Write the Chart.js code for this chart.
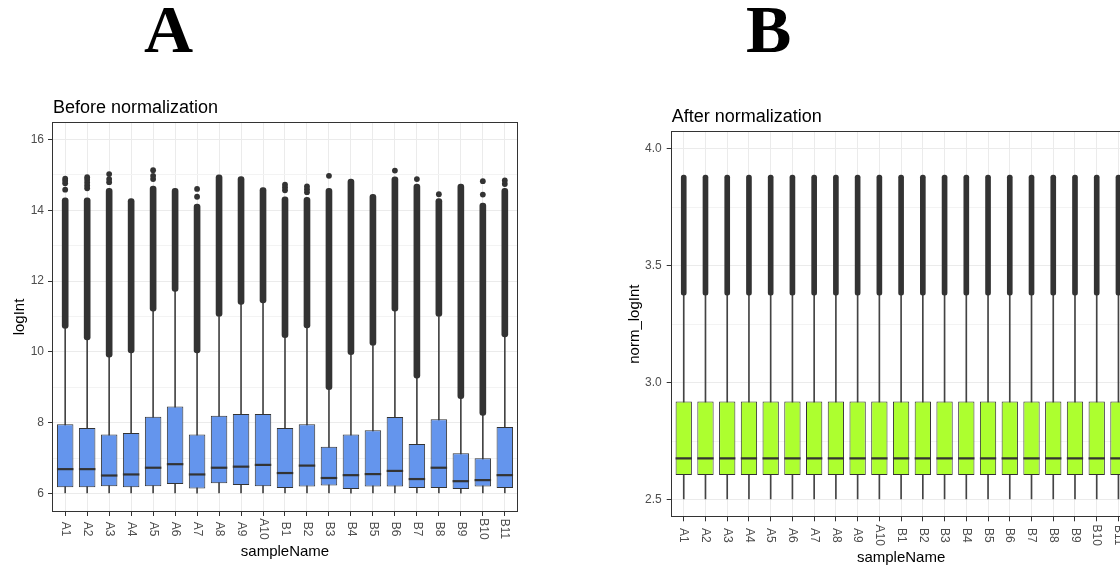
<!DOCTYPE html>
<html>
<head>
<meta charset="utf-8">
<script src="https://cdn.jsdelivr.net/npm/chart.js@4.4.1/dist/chart.umd.min.js"></script>
<style>
body { margin: 0; width: 1120px; height: 571px; overflow: hidden; background: #fff; position: relative; }
.letter { position: absolute; top: -5px; font-family: "Liberation Serif", "Times New Roman", serif; font-weight: bold; font-size: 68px; line-height: 1; color: #000; }
.panel { position: absolute; top: 0; width: 530px; height: 571px; }
</style>
</head>
<body>
<div class="letter" style="left:144px">A</div>
<div class="letter" style="left:746px">B</div>
<div class="panel" style="left:0"><canvas id="chart1"></canvas></div>
<div class="panel" style="left:620px"><canvas id="chart2"></canvas></div>
<script>
const samples = ['A1', 'A2', 'A3', 'A4', 'A5', 'A6', 'A7', 'A8', 'A9', 'A10',
    'B1', 'B2', 'B3', 'B4', 'B5', 'B6', 'B7', 'B8', 'B9', 'B10', 'B11'];

// Before normalization (logInt)
const lowBefore = [6.02, 6.02, 6.02, 6.02, 6.02, 6.02, 6.01, 6.02, 6.02, 6.02, 6.02, 6.02, 6.02, 6.01, 6.02, 6.02, 6.02, 6.02, 6.01, 6.02, 6.02];
const q1Before = [6.18, 6.18, 6.21, 6.18, 6.21, 6.27, 6.14, 6.29, 6.24, 6.21, 6.16, 6.20, 6.23, 6.13, 6.20, 6.20, 6.16, 6.16, 6.13, 6.20, 6.16];
const medBefore = [6.69, 6.69, 6.51, 6.54, 6.73, 6.83, 6.54, 6.73, 6.76, 6.81, 6.58, 6.79, 6.44, 6.52, 6.55, 6.64, 6.41, 6.73, 6.35, 6.38, 6.52];
const q3Before = [7.96, 7.85, 7.67, 7.71, 8.17, 8.46, 7.67, 8.20, 8.25, 8.25, 7.85, 7.96, 7.32, 7.67, 7.79, 8.16, 7.40, 8.10, 7.14, 7.00, 7.88];
const highBefore = [10.66, 10.34, 9.85, 9.97, 11.15, 11.71, 9.97, 11.00, 11.34, 11.38, 10.40, 10.68, 8.93, 9.92, 10.18, 11.15, 9.26, 11.00, 8.68, 8.21, 10.42];
// top of the dense run of outliers
const outTopBefore = [14.35, 14.35, 14.62, 14.33, 14.68, 14.62, 14.17, 15.00, 14.95, 14.64, 14.38, 14.36, 14.62, 14.88, 14.45, 14.94, 14.74, 14.33, 14.74, 14.20, 14.62];
// separate outlier points above the run
const outPointsBefore = [
    [14.58, 14.76, 14.83, 14.89], [14.62, 14.70, 14.78, 14.86, 14.93], [14.79, 14.88, 15.02], [],
    [14.88, 14.97, 15.13], [], [14.38, 14.60], [], [], [],
    [14.56, 14.64, 14.72], [14.51, 14.59, 14.67], [14.97], [], [], [15.12], [14.88], [14.45], [],
    [14.44, 14.82], [14.74, 14.84]
];

// After normalization (norm_logInt)
const lowAfter = [2.504, 2.504, 2.504, 2.504, 2.504, 2.504, 2.504, 2.504, 2.504, 2.504, 2.504, 2.504, 2.504, 2.504, 2.504, 2.504, 2.504, 2.504, 2.504, 2.504, 2.504];
const q1After = [2.607, 2.607, 2.607, 2.607, 2.607, 2.607, 2.607, 2.607, 2.607, 2.607, 2.607, 2.607, 2.607, 2.607, 2.607, 2.607, 2.607, 2.607, 2.607, 2.607, 2.607];
const medAfter = [2.678, 2.678, 2.678, 2.678, 2.678, 2.678, 2.678, 2.678, 2.678, 2.678, 2.678, 2.678, 2.678, 2.678, 2.678, 2.678, 2.678, 2.678, 2.678, 2.678, 2.678];
const q3After = [2.921, 2.921, 2.921, 2.921, 2.921, 2.921, 2.921, 2.921, 2.921, 2.921, 2.921, 2.921, 2.921, 2.921, 2.921, 2.921, 2.921, 2.921, 2.921, 2.921, 2.921];
const highAfter = [3.375, 3.375, 3.375, 3.375, 3.375, 3.375, 3.375, 3.375, 3.375, 3.375, 3.375, 3.375, 3.375, 3.375, 3.375, 3.375, 3.375, 3.375, 3.375, 3.375, 3.375];
const outTopAfter = [3.888, 3.888, 3.888, 3.888, 3.888, 3.888, 3.888, 3.888, 3.888, 3.888, 3.888, 3.888, 3.888, 3.888, 3.888, 3.888, 3.888, 3.888, 3.888, 3.888, 3.888];

const FONT = '"Liberation Sans", Arial, Helvetica, sans-serif';
Chart.defaults.font.family = FONT;

// boxplot built from floating bars + point markers
function boxDatasets(low, q1, med, q3, high, outTop, outPoints, fill, bandWidth) {
    let whisker = [], box = [], band = [], median = [], dots = [];
    for (let i = 0; i < samples.length; i++) {
        whisker.push({x: i, y: [low[i], high[i]]});
        box.push({x: i, y: [q1[i], q3[i]]});
        band.push({x: i, y: [high[i], outTop[i]]});
        median.push({x: i, y: med[i]});
        if (outPoints) {
            outPoints[i].forEach(v => dots.push({x: i, y: v}));
        }
    }
    return [
        {type: 'line', data: median, showLine: false, pointStyle: 'line', order: 0,
            pointRadius: ctx => {
                const xs = ctx.chart.scales.x;
                return Math.abs(xs.getPixelForValue(1) - xs.getPixelForValue(0)) * 0.375;
            },
            pointBorderWidth: 2.2, pointBorderColor: '#333333'},
        {type: 'line', data: dots, showLine: false, pointStyle: 'circle', order: 1,
            pointRadius: 2.9, pointBorderWidth: 0, pointBackgroundColor: '#333333'},
        {type: 'bar', data: box, order: 2, grouped: false, barPercentage: 0.75, categoryPercentage: 1,
            backgroundColor: fill, borderColor: '#333333', borderWidth: 1, borderSkipped: false},
        {type: 'bar', data: band, order: 3, grouped: false, barThickness: bandWidth,
            backgroundColor: '#333333', borderRadius: bandWidth / 2, borderSkipped: false},
        {type: 'bar', data: whisker, order: 4, grouped: false, barThickness: 1,
            backgroundColor: '#444444'}
    ];
}

// panel border, title and rotated sample names
const panelPlugin = {
    id: 'panel',
    afterDraw(chart, args, opts) {
        const ctx = chart.ctx;
        const area = chart.chartArea;
        const xs = chart.scales.x;
        ctx.save();
        ctx.strokeStyle = '#333333';
        ctx.lineWidth = 1;
        ctx.strokeRect(Math.round(area.left) + 0.5, Math.round(area.top) + 0.5,
            Math.round(area.right - area.left) - 1, Math.round(area.bottom - area.top) - 1);

        ctx.fillStyle = '#000';
        ctx.font = '18px ' + FONT;
        ctx.textAlign = 'left';
        ctx.textBaseline = 'alphabetic';
        ctx.fillText(opts.title, area.left + 1, opts.titleY);

        ctx.fillStyle = '#4d4d4d';
        ctx.font = '12px ' + FONT;
        ctx.textAlign = 'center';
        ctx.textBaseline = 'middle';
        for (let i = 0; i < samples.length; i++) {
            ctx.save();
            ctx.translate(xs.getPixelForValue(i), area.bottom + opts.labelGap);
            ctx.rotate(Math.PI / 2);
            ctx.fillText(samples[i], 0, 0);
            ctx.restore();
        }
        ctx.restore();
    }
};

function makeOptions(o) {
    return {
        responsive: true,
        maintainAspectRatio: false,
        animation: false,
        events: [],
        layout: {padding: o.padding},
        plugins: {
            legend: {display: false},
            tooltip: {enabled: false},
            panel: {title: o.title, titleY: o.titleY, labelGap: o.labelGap}
        },
        scales: {
            x: {
                type: 'linear', min: -0.6, max: 20.6, offset: false,
                grid: {offset: false, color: '#ebebeb', tickColor: '#333333', tickLength: 4},
                border: {display: false},
                ticks: {display: false, stepSize: 1, includeBounds: false},
                title: {display: true, text: 'sampleName', color: '#000', font: {size: 15}},
                afterFit: s => { s.height = o.xHeight; }
            },
            y: {
                min: o.yMin, max: o.yMax, beginAtZero: false,
                grid: {
                    color: ctx => o.isMajor(ctx.tick.value) ? '#ebebeb' : '#f3f3f3',
                    tickColor: ctx => o.isMajor(ctx.tick.value) ? '#333333' : 'rgba(0,0,0,0)',
                    tickLength: 4
                },
                border: {display: false},
                ticks: {
                    stepSize: o.yStep, includeBounds: false, autoSkip: false,
                    color: '#4d4d4d', font: {size: 12}, padding: o.tickPad,
                    callback: v => o.isMajor(v) ? o.fmt(v) : ''
                },
                title: {display: true, text: o.yTitle, color: '#000', font: {size: 15}},
                afterFit: s => { s.width = o.yWidth; }
            }
        }
    };
}

new Chart(document.getElementById('chart1'), {
    type: 'bar',
    data: {datasets: boxDatasets(lowBefore, q1Before, medBefore, q3Before, highBefore, outTopBefore, outPointsBefore, '#6495ED', 6)},
    options: makeOptions({
        padding: {top: 122, left: 7, right: 12, bottom: 6},
        title: 'Before normalization', titleY: 112.5, labelGap: 17,
        xHeight: 53, yWidth: 45, tickPad: 4,
        yMin: 5.48, yMax: 16.49, yStep: 1,
        isMajor: v => Math.abs(v % 2) < 1e-6,
        fmt: v => String(v),
        yTitle: 'logInt'
    }),
    plugins: [panelPlugin]
});

new Chart(document.getElementById('chart2'), {
    type: 'bar',
    data: {datasets: boxDatasets(lowAfter, q1After, medAfter, q3After, highAfter, outTopAfter, null, '#ADFF2F', 5)},
    options: makeOptions({
        padding: {top: 131, left: 2, right: 18.5, bottom: 0},
        title: 'After normalization', titleY: 121.5, labelGap: 18,
        xHeight: 53.7, yWidth: 48.7, tickPad: 5,
        yMin: 2.426, yMax: 4.076, yStep: 0.25,
        isMajor: v => Math.abs(v * 2 - Math.round(v * 2)) < 1e-6,
        fmt: v => v.toFixed(1),
        yTitle: 'norm_logInt'
    }),
    plugins: [panelPlugin]
});
</script>
</body>
</html>
